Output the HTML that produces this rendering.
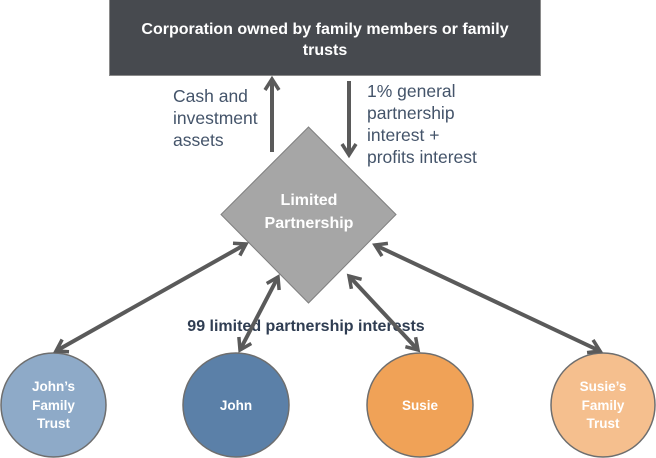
<!DOCTYPE html>
<html>
<head>
<meta charset="utf-8">
<style>
  html,body{margin:0;padding:0;background:#fff;}
  body{width:656px;height:458px;overflow:hidden;}
  svg{display:block;}
  text{font-family:"Liberation Sans",Arial,sans-serif;}
</style>
</head>
<body>
<svg width="656" height="458" viewBox="0 0 656 458" xmlns="http://www.w3.org/2000/svg">
  <defs>
    <marker id="ah" viewBox="0 0 14 16" refX="12" refY="8" markerWidth="14" markerHeight="16" markerUnits="userSpaceOnUse" orient="auto-start-reverse" overflow="visible">
      <path d="M1,1 L12,8 L1,15" fill="none" stroke="#5a5a5a" stroke-width="3.5" stroke-linejoin="miter"/>
    </marker>
  </defs>

  <!-- Top box -->
  <rect x="109.5" y="-1" width="431" height="76.5" fill="#474a4f" stroke="#8a8a8a" stroke-width="1"/>
  <text x="325" y="34" font-size="16" font-weight="bold" fill="#ffffff" text-anchor="middle">Corporation owned by family members or family</text>
  <text x="325" y="55" font-size="16" font-weight="bold" fill="#ffffff" text-anchor="middle">trusts</text>

  <!-- vertical arrows -->
  <line x1="272" y1="152" x2="272" y2="79" stroke="#5a5a5a" stroke-width="4" marker-end="url(#ah)"/>
  <line x1="349" y1="81" x2="349" y2="155" stroke="#5a5a5a" stroke-width="4" marker-end="url(#ah)"/>

  <!-- left label -->
  <g font-size="17.5" fill="#44546a">
    <text x="173" y="102">Cash and</text>
    <text x="173" y="124">investment</text>
    <text x="173" y="146">assets</text>
  </g>
  <!-- right label -->
  <g font-size="17.5" fill="#44546a">
    <text x="367" y="97">1% general</text>
    <text x="367" y="119">partnership</text>
    <text x="367" y="141">interest +</text>
    <text x="367" y="163">profits interest</text>
  </g>

  <!-- Diamond -->
  <polygon points="308.5,127 396,214.5 308.5,303 221,214.5" fill="#a6a6a6" stroke="#7f7f7f" stroke-width="1"/>
  <text x="309" y="205" font-size="16" font-weight="bold" fill="#ffffff" text-anchor="middle">Limited</text>
  <text x="309" y="228" font-size="16" font-weight="bold" fill="#ffffff" text-anchor="middle">Partnership</text>

  <!-- Circles -->
  <ellipse cx="53.5" cy="405" rx="52.5" ry="52" fill="#8eaac8" stroke="#6e6e6e" stroke-width="1.5"/>
  <ellipse cx="236" cy="405" rx="53" ry="52" fill="#5b80a8" stroke="#6e6e6e" stroke-width="1.5"/>
  <ellipse cx="420" cy="405" rx="53" ry="52" fill="#f0a257" stroke="#6e6e6e" stroke-width="1.5"/>
  <ellipse cx="603" cy="405" rx="52" ry="52" fill="#f5bf8e" stroke="#6e6e6e" stroke-width="1.5"/>

  <g font-size="13.5" font-weight="bold" fill="#ffffff" text-anchor="middle">
    <text x="53.5" y="391">John’s</text>
    <text x="53.5" y="410">Family</text>
    <text x="53.5" y="428">Trust</text>
    <text x="236" y="410">John</text>
    <text x="420" y="410">Susie</text>
    <text x="603" y="391">Susie’s</text>
    <text x="603" y="410">Family</text>
    <text x="603" y="428">Trust</text>
  </g>

  <!-- label -->
  <text x="306" y="331" font-size="16" font-weight="bold" fill="#2f3d52" text-anchor="middle">99 limited partnership interests</text>

  <!-- double arrows -->
  <g stroke="#5a5a5a" stroke-width="4" fill="none">
    <line x1="246" y1="244" x2="56" y2="351" marker-start="url(#ah)" marker-end="url(#ah)"/>
    <line x1="278" y1="277" x2="240" y2="350" marker-start="url(#ah)" marker-end="url(#ah)"/>
    <line x1="349" y1="276" x2="418" y2="350" marker-start="url(#ah)" marker-end="url(#ah)"/>
    <line x1="375" y1="245" x2="600" y2="351" marker-start="url(#ah)" marker-end="url(#ah)"/>
  </g>
</svg>
</body>
</html>
